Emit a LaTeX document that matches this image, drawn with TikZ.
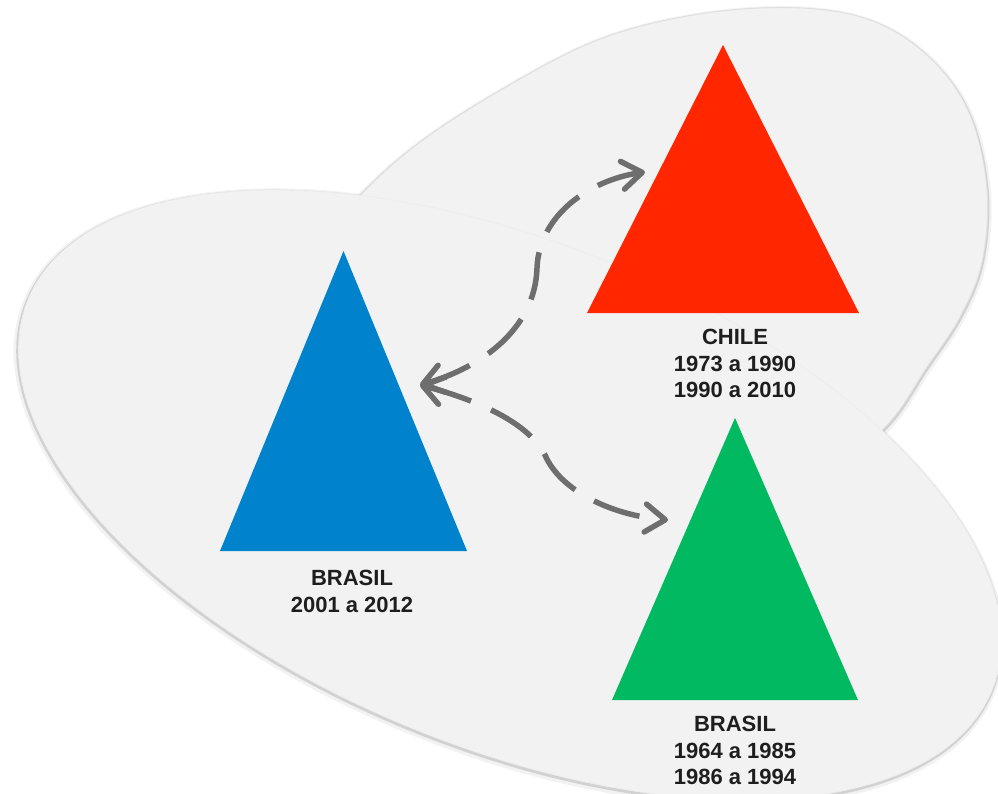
\documentclass[tikz,border=0pt]{standalone}
\usepackage{fontspec}
\setmainfont{Liberation Sans}
\usetikzlibrary{arrows.meta}
\definecolor{shapefill}{HTML}{F2F2F2}
\definecolor{cblue}{HTML}{0082CC}
\definecolor{cred}{HTML}{FF2600}
\definecolor{cgreen}{HTML}{00B960}
\definecolor{arrowgray}{HTML}{6E6E6E}
\definecolor{txtgray}{HTML}{1E1E1E}
\newcommand\shapeApath[1]{\path[rotate around={-22:(510,495)},#1] (510,495) ellipse [x radius=520pt, y radius=253pt];}
\newcommand\shapeBpath[1]{\path[#1] plot[smooth cycle, tension=0.6] coordinates {(300,275) (345,212) (410,150) (496,93) (598,40) (700,14) (800,8) (875,22) (932,60) (970,115) (987,190) (982,262) (960,317) (927,367) (887,425) (825,472) (700,488) (540,440) (390,350)};}
\tikzset{
  conn/.style={draw=arrowgray, line width=5.5pt, dash pattern=on 48pt off 22pt,
    >={Straight Barb[length=20pt,width=28pt,round]}, <->},
  lbl/.style={font=\bfseries\fontsize{22pt}{26.5pt}\selectfont, text=txtgray, align=center, inner sep=0pt, anchor=north}
}
\begin{document}
\begin{tikzpicture}[x=1pt,y=-1pt]
\useasboundingbox (0,0) rectangle (998,794);
\fill[white] (0,0) rectangle (998,794);
% soft shadows
\shapeApath{draw=black, line width=8pt, opacity=0.05, yshift=-2.5pt}
\shapeBpath{draw=black, line width=8pt, opacity=0.05, yshift=-2.5pt}
\shapeApath{draw=black, line width=3.5pt, opacity=0.13, yshift=-1.5pt}
\shapeBpath{draw=black, line width=3.5pt, opacity=0.13, yshift=-1.5pt}
% shapes
\shapeBpath{fill=shapefill, draw=black!12, line width=0.8pt}
\shapeApath{fill=shapefill, draw=black!7, line width=0.7pt}
% triangles
\fill[cblue] (343.5,251) -- (220,551) -- (467,551) -- cycle;
\fill[cred] (723,45) -- (587,313) -- (859,313) -- cycle;
\fill[cgreen] (735,418) -- (612,700) -- (858,700) -- cycle;
% labels
\node[lbl] (lblB) at (352,570) {BRASIL\\2001 a 2012};
\node[lbl] (lblC) at (735,329) {CHILE\\1973 a 1990\\1990 a 2010};
\node[lbl] (lblG) at (735,716) {BRASIL\\1964 a 1985\\1986 a 1994};
% connectors
\coordinate (bt) at (420,385);
\coordinate (rt) at (645,172);
\coordinate (gt) at (668,520);
\coordinate (um) at (537,268);
\coordinate (lm) at (545,455);
\draw[conn] (bt) .. controls (480,368) and (535,330) .. (um) .. controls (539,215) and (590,180) .. (rt);
\draw[conn] (bt) .. controls (470,398) and (527,420) .. (lm) .. controls (560,490) and (610,515) .. (gt);
\end{tikzpicture}
\end{document}
